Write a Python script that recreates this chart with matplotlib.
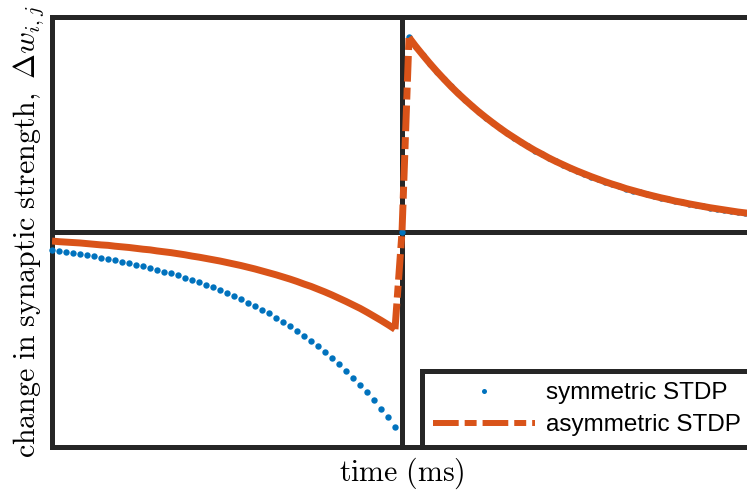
"""Symmetric vs asymmetric STDP window, redrawn from a figure."""

import matplotlib.pyplot as plt
import numpy as np
from matplotlib.lines import Line2D

# spike-time difference in ms, one sample per ms
time_ms = np.arange(-50, 51)

# depression branch (t < 0), t = -50 ... -1
sym_ltd = [-0.085, -0.089, -0.093, -0.098, -0.103, -0.108, -0.113, -0.119,
           -0.125, -0.131, -0.138, -0.144, -0.152, -0.159, -0.167, -0.175,
           -0.184, -0.193, -0.202, -0.213, -0.223, -0.234, -0.246, -0.258,
           -0.271, -0.284, -0.298, -0.313, -0.328, -0.344, -0.362, -0.379,
           -0.398, -0.418, -0.439, -0.460, -0.483, -0.507, -0.532, -0.558,
           -0.586, -0.615, -0.645, -0.677, -0.711, -0.746, -0.783, -0.822,
           -0.862, -0.905]
asym_ltd = [-0.042, -0.045, -0.047, -0.049, -0.051, -0.054, -0.057, -0.060,
            -0.062, -0.066, -0.069, -0.072, -0.076, -0.080, -0.083, -0.088,
            -0.092, -0.096, -0.101, -0.106, -0.112, -0.117, -0.123, -0.129,
            -0.135, -0.142, -0.149, -0.156, -0.164, -0.172, -0.181, -0.190,
            -0.199, -0.209, -0.219, -0.230, -0.242, -0.253, -0.266, -0.279,
            -0.293, -0.308, -0.323, -0.339, -0.355, -0.373, -0.392, -0.411,
            -0.431, -0.452]
# potentiation branch (t > 0), shared by both rules, t = 1 ... 50
ltp = [0.905, 0.862, 0.822, 0.783, 0.746, 0.711, 0.677, 0.645, 0.615, 0.586,
       0.558, 0.532, 0.507, 0.483, 0.460, 0.439, 0.418, 0.398, 0.379, 0.362,
       0.344, 0.328, 0.313, 0.298, 0.284, 0.271, 0.258, 0.246, 0.234, 0.223,
       0.213, 0.202, 0.193, 0.184, 0.175, 0.167, 0.159, 0.152, 0.144, 0.138,
       0.131, 0.125, 0.119, 0.113, 0.108, 0.103, 0.098, 0.093, 0.089, 0.085]

labels = ["symmetric STDP", "asymmetric STDP"]

BLUE = "#0072BD"
ORANGE = "#D95319"
DARK = "#262626"
DASHES = (18.5, 4.3, 8.6, 4.3)

plt.rcParams["mathtext.fontset"] = "cm"
plt.rcParams["lines.scale_dashes"] = False


def main():
    sym = np.concatenate([sym_ltd, [0.0], ltp])
    asym = np.concatenate([asym_ltd, [0.0], ltp])

    fig = plt.figure(figsize=(7.47, 4.94), dpi=100)
    ax = fig.add_axes([52 / 747, 47 / 494, 700 / 747, 430 / 494])

    ax.axhline(0, color=DARK, linewidth=3.6, zorder=1)
    ax.axvline(0, color=DARK, linewidth=3.6, zorder=1)

    ax.plot(time_ms, sym, linestyle="none", marker="o", markersize=4.6,
            markeredgewidth=0, color=BLUE, zorder=3, clip_on=False)

    # solid-looking curves with a dashed jump around t = 0
    i0 = len(asym_ltd)
    ax.plot(time_ms[:i0], asym[:i0], color=ORANGE, linewidth=5,
            solid_capstyle="butt", zorder=4)
    ax.plot(time_ms[i0 - 1:i0 + 2], asym[i0 - 1:i0 + 2], color=ORANGE,
            linewidth=5, dashes=DASHES, dash_capstyle="butt", zorder=4)
    ax.plot(time_ms[i0 + 1:], asym[i0 + 1:], color=ORANGE, linewidth=5,
            solid_capstyle="butt", zorder=4)

    ax.set_xlim(-50, 50)
    ax.set_ylim(-1, 1)
    ax.set_xticks([])
    ax.set_yticks([])
    for spine in ax.spines.values():
        spine.set_linewidth(3.6)
        spine.set_color(DARK)

    ax.set_xlabel(r"$\mathrm{time\ (ms)}$", fontsize=21.5, labelpad=6)
    ax.set_ylabel(r"$\mathrm{change\ in\ synaptic\ strength,}\ \Delta w_{i,j}$",
                  fontsize=21.5, labelpad=4)

    handles = [
        Line2D([], [], linestyle="none", marker="o", markersize=3.6,
               markeredgewidth=0, color=BLUE),
        Line2D([], [], color=ORANGE, linewidth=4.3, dashes=DASHES,
               dash_capstyle="butt"),
    ]
    leg = ax.legend(handles, labels, loc="lower right",
                    bbox_to_anchor=(1, 0), borderaxespad=0, fancybox=False,
                    framealpha=1, edgecolor=DARK, handlelength=4.2,
                    handletextpad=0.45, borderpad=0.45, labelspacing=0.41,
                    prop={"family": "Liberation Sans", "size": 17.5})
    leg.get_frame().set_linewidth(3.6)

    fig.savefig("out.png", dpi=100)


if __name__ == "__main__":
    main()
